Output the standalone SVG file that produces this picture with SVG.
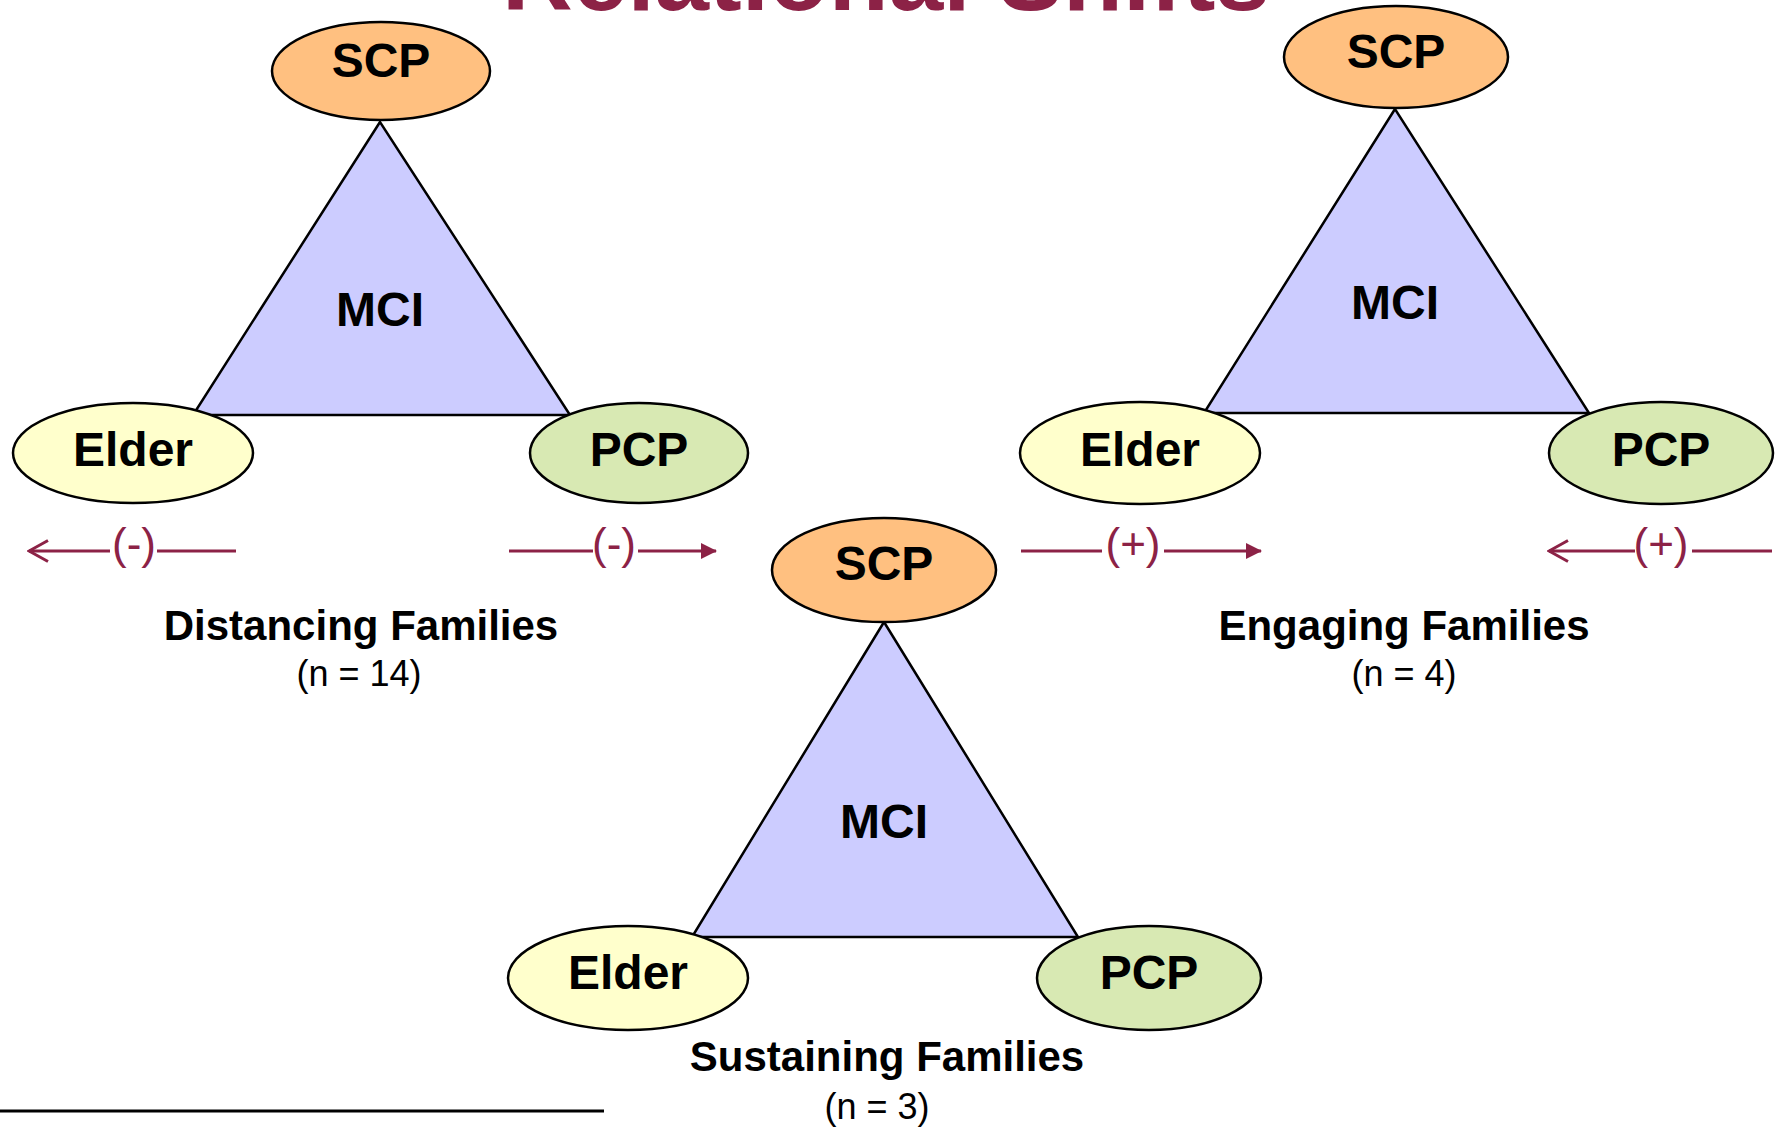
<svg xmlns="http://www.w3.org/2000/svg" width="1781" height="1128" viewBox="0 0 1781 1128">
<defs>
<style>
.tri{fill:#CCCCFF;stroke:#000;stroke-width:2.5;stroke-linejoin:miter}
.scp{fill:#FFC080;stroke:#000;stroke-width:2.5}
.eld{fill:#FFFFCC;stroke:#000;stroke-width:2.5}
.pcp{fill:#D8E9B3;stroke:#000;stroke-width:2.5}
.nl{font-family:"Liberation Sans",Arial,sans-serif;font-weight:bold;font-size:48px;text-anchor:middle;fill:#000}
.cap{font-family:"Liberation Sans",Arial,sans-serif;font-weight:bold;font-size:42px;text-anchor:middle;fill:#000}
.sub{font-family:"Liberation Sans",Arial,sans-serif;font-size:36px;text-anchor:middle;fill:#000}
.sgn{font-family:"Liberation Sans",Arial,sans-serif;font-size:44px;text-anchor:middle;fill:#8C2246}
.ln{stroke:#8C2246;stroke-width:3;fill:none}
.title{font-family:"Liberation Sans",Arial,sans-serif;font-weight:bold;font-size:98px;text-anchor:middle;fill:#8C2246}
</style>
<marker id="fill" markerWidth="16" markerHeight="16" refX="15" refY="8" orient="auto" markerUnits="userSpaceOnUse" viewBox="0 0 16 16"><path d="M0,0 L16,8 L0,16 Z" fill="#8C2246"/></marker>
<marker id="open" markerWidth="22" markerHeight="24" refX="20" refY="12" orient="auto" markerUnits="userSpaceOnUse" viewBox="0 0 22 24"><path d="M1,1.5 L20,12 L1,22.5" fill="none" stroke="#8C2246" stroke-width="3"/></marker>
</defs>
<rect width="1781" height="1128" fill="#fff"/>
<text class="title" x="886" y="10">Relational Shifts</text>

<g id="distancing">
<g id="d-mci"><polygon class="tri" points="380,122 193,415 570,415"/><text class="nl" x="380" y="326">MCI</text></g>
<g id="d-scp"><ellipse class="scp" cx="381" cy="71" rx="109" ry="49"/><text class="nl" x="381" y="77">SCP</text></g>
<g id="d-elder"><ellipse class="eld" cx="133" cy="453" rx="120" ry="50"/><text class="nl" x="133" y="466">Elder</text></g>
<g id="d-pcp"><ellipse class="pcp" cx="639" cy="453" rx="109" ry="50"/><text class="nl" x="639" y="466">PCP</text></g>
<text class="cap" x="361" y="640">Distancing Families</text>
<text class="sub" x="359" y="686">(n = 14)</text>
</g>

<g id="engaging">
<g id="e-mci"><polygon class="tri" points="1395,109 1204,413 1589,413"/><text class="nl" x="1395" y="319">MCI</text></g>
<g id="e-scp"><ellipse class="scp" cx="1396" cy="57" rx="112" ry="51"/><text class="nl" x="1396" y="68">SCP</text></g>
<g id="e-elder"><ellipse class="eld" cx="1140" cy="453" rx="120" ry="51"/><text class="nl" x="1140" y="466">Elder</text></g>
<g id="e-pcp"><ellipse class="pcp" cx="1661" cy="453" rx="112" ry="51"/><text class="nl" x="1661" y="466">PCP</text></g>
<text class="cap" x="1404" y="640">Engaging Families</text>
<text class="sub" x="1404" y="686">(n = 4)</text>
</g>

<g id="sustaining">
<g id="s-mci"><polygon class="tri" points="884,622 692,937 1078,937"/><text class="nl" x="884" y="838">MCI</text></g>
<g id="s-scp"><ellipse class="scp" cx="884" cy="570" rx="112" ry="52"/><text class="nl" x="884" y="580">SCP</text></g>
<g id="s-elder"><ellipse class="eld" cx="628" cy="978" rx="120" ry="52"/><text class="nl" x="628" y="989">Elder</text></g>
<g id="s-pcp"><ellipse class="pcp" cx="1149" cy="978" rx="112" ry="52"/><text class="nl" x="1149" y="989">PCP</text></g>
<text class="cap" x="887" y="1071">Sustaining Families</text>
<text class="sub" x="877" y="1119">(n = 3)</text>
</g>

<g id="connectors">
<line class="ln" x1="110" y1="551" x2="29" y2="551" marker-end="url(#open)"/>
<text class="sgn" x="134" y="559">(-)</text>
<line class="ln" x1="157" y1="551" x2="236" y2="551"/>
<line class="ln" x1="509" y1="551" x2="593" y2="551"/>
<text class="sgn" x="614" y="559">(-)</text>
<line class="ln" x1="638" y1="551" x2="716" y2="551" marker-end="url(#fill)"/>
<line class="ln" x1="1021" y1="551" x2="1102" y2="551"/>
<text class="sgn" x="1133" y="559">(+)</text>
<line class="ln" x1="1164" y1="551" x2="1261" y2="551" marker-end="url(#fill)"/>
<line class="ln" x1="1635" y1="551" x2="1549" y2="551" marker-end="url(#open)"/>
<text class="sgn" x="1661" y="559">(+)</text>
<line class="ln" x1="1692" y1="551" x2="1772" y2="551"/>
</g>
<line x1="0" y1="1111" x2="604" y2="1111" stroke="#000" stroke-width="3"/>
</svg>
